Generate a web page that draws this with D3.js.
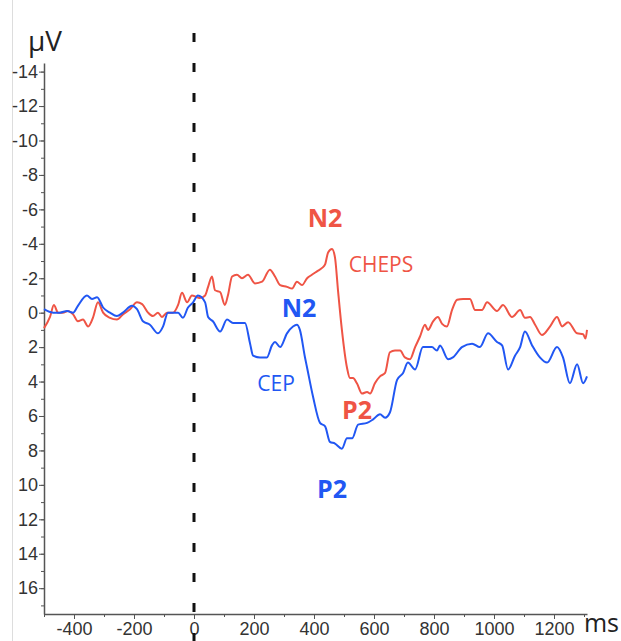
<!DOCTYPE html>
<html>
<head>
<meta charset="utf-8">
<script src="https://cdn.jsdelivr.net/npm/d3@7"></script>
<style>
  body { margin: 0; background: #fff; }
  svg { display: block; }
  .tick line, .domain { stroke: #555; }
</style>
</head>
<body>
<svg width="621" height="641"></svg>
<script>
// CEP (blue) and CHEPS (red) waveforms, [ms, µV]
let cepMs = [-500,-470,-447,-423,-403,-387,-357,-340,-323,-303,-280,-257,-237,-207,-190,-170,-147,-120,-103,-87,-70,-53,-37,-20,-3,13,37,47,63,87,110,130,147,170,187,197,220,243,260,270,287,310,330,343,353,370,377,397,420,437,453,470,493,510,527,547,577,597,620,637,653,677,697,713,737,763,793,810,820,847,863,893,927,953,980,1010,1027,1047,1070,1087,1103,1127,1153,1177,1210,1230,1253,1277,1297,1310];
let cepUv = [-0.2,0.0,0.0,-0.1,0.0,-0.4,-1.0,-0.8,-0.9,-0.3,0.0,0.2,0.0,-0.4,-0.2,0.5,0.7,1.2,0.8,0.0,0.0,0.0,0.3,-0.3,-0.6,-1.0,-0.6,0.25,0.5,1.1,0.4,0.6,0.6,0.6,1.8,2.5,2.6,2.6,1.9,1.7,2.0,1.2,0.8,0.7,1.0,2.6,3.2,4.9,6.4,6.6,7.5,7.6,7.9,7.3,7.3,6.5,6.4,6.2,5.9,6.1,5.8,3.9,3.5,2.9,3.3,2.0,2.0,2.2,1.9,2.7,2.6,2.0,1.8,2.0,1.2,1.7,1.9,3.3,2.5,2.0,1.1,1.9,2.6,2.9,2.0,2.6,4.1,3.0,4.1,3.7];

let chepsMs = [-500,-480,-467,-453,-437,-420,-403,-387,-370,-353,-337,-320,-303,-280,-257,-237,-213,-190,-173,-153,-137,-120,-107,-90,-70,-53,-40,-23,-7,10,20,37,47,60,70,87,103,113,127,143,160,180,203,227,253,270,287,310,327,343,360,377,393,410,427,437,447,460,470,480,493,510,520,530,543,560,577,587,603,620,637,653,670,687,703,720,737,753,770,780,797,813,827,843,860,877,897,920,937,960,977,1010,1030,1060,1087,1103,1120,1137,1160,1187,1210,1227,1247,1277,1297,1305,1310];
let chepsUv = [0.9,0.25,-0.45,0.0,0.0,-0.1,0.1,0.5,0.4,0.8,0.3,-0.6,0.0,0.3,0.4,0.1,-0.2,-0.6,-0.5,0.0,0.2,0.0,0.25,0.0,0.0,-0.45,-1.15,-0.6,-1.0,-0.9,-0.85,-1.0,-1.5,-2.1,-1.3,-1.2,-0.45,-1.0,-2.1,-2.2,-2.0,-2.2,-1.7,-1.8,-2.5,-2.1,-1.6,-1.5,-1.4,-1.8,-1.6,-2.0,-2.2,-2.4,-2.6,-2.8,-3.5,-3.7,-3.2,-1.3,1.0,3.2,3.8,3.8,4.1,4.7,4.6,4.7,4.1,3.7,3.5,2.3,2.2,2.2,2.6,2.7,2.0,1.4,0.7,1.0,0.5,0.25,0.65,0.8,-0.15,-0.75,-0.8,-0.8,-0.15,-0.15,-0.6,-0.1,-0.45,0.25,-0.15,0.3,0.25,0.7,1.3,0.8,0.25,0.8,0.55,1.2,1.25,1.5,1.0];

let yMajor = [-14,-12,-10,-8,-6,-4,-2,0,2,4,6,8,10,12,14,16];
let xMajor = [-400,-200,0,200,400,600,800,1000,1200];

let red = "#ef5445";
let blue = "#2157f3";

let svg = d3.select("svg");

let scX = d3.scaleLinear().domain([-500, 1310]).range([44, 587]);
let scY = d3.scaleLinear().domain([-14.5, 17.5]).range([63, 614]);

// faint frame line at the left edge
svg.append("line")
   .attr("x1", 12.5).attr("x2", 12.5).attr("y1", 0).attr("y2", 641)
   .attr("stroke", "#ddd");

// minor ticks
svg.append("g").attr("transform", "translate(44,0)")
   .call(d3.axisLeft(scY).tickValues(d3.range(-14, 18, 1)).tickSize(3).tickFormat(""))
   .call(g => g.select(".domain").remove());
svg.append("g").attr("transform", "translate(0,614)")
   .call(d3.axisBottom(scX).tickValues(d3.range(-500, 1301, 100)).tickSize(3).tickFormat(""))
   .call(g => g.select(".domain").remove());

// major ticks
let styleTicks = g => g.selectAll(".tick text")
                       .attr("font-family", "'Liberation Sans', Arial, sans-serif")
                       .attr("font-size", 18).attr("fill", "#333");
svg.append("g").attr("transform", "translate(44,0)")
   .call(d3.axisLeft(scY).tickValues(yMajor).tickSize(5).tickSizeOuter(0).tickPadding(1).tickFormat(d => String(d)))
   .call(g => g.select(".domain").attr("stroke-width", 1.5))
   .call(styleTicks);
svg.append("g").attr("transform", "translate(0,614)")
   .call(d3.axisBottom(scX).tickValues(xMajor).tickSize(5).tickSizeOuter(0).tickPadding(3).tickFormat(d => String(d)))
   .call(g => g.select(".domain").attr("stroke-width", 1.5))
   .call(styleTicks);

// stimulus onset
svg.append("line")
   .attr("x1", scX(0)).attr("x2", scX(0)).attr("y1", 33).attr("y2", 641)
   .attr("stroke", "#111").attr("stroke-width", 3)
   .attr("stroke-dasharray", "9 21");

let lineMaker = d3.line()
                  .x(d => scX(d[0]))
                  .y(d => scY(d[1]))
                  .curve(d3.curveMonotoneX);

svg.append("path")
   .attr("fill", "none").attr("stroke", red).attr("stroke-width", 2)
   .attr("d", lineMaker(d3.zip(chepsMs, chepsUv)));
svg.append("path")
   .attr("fill", "none").attr("stroke", blue).attr("stroke-width", 2)
   .attr("d", lineMaker(d3.zip(cepMs, cepUv)));

// unit labels
let unitFont = "'Open Sans', 'DejaVu Sans', sans-serif";
svg.append("text").attr("x", 28).attr("y", 51)
   .attr("font-family", unitFont).attr("font-size", 28).attr("fill", "#222")
   .text("µV");
svg.append("text").attr("x", 619).attr("y", 632)
   .attr("text-anchor", "end")
   .attr("font-family", unitFont).attr("font-size", 25).attr("fill", "#222")
   .text("ms");

// annotations
let notes = [
  {t: "N2", x: 325, y: 227, c: red, b: true},
  {t: "CHEPS", x: 381, y: 272, c: red, b: false},
  {t: "N2", x: 299, y: 317, c: blue, b: true},
  {t: "CEP", x: 276, y: 391, c: blue, b: false},
  {t: "P2", x: 357, y: 419, c: red, b: true},
  {t: "P2", x: 332, y: 498, c: blue, b: true}
];
svg.selectAll(".note").data(notes).enter()
   .append("text").attr("class", "note")
   .attr("x", d => d.x).attr("y", d => d.y)
   .attr("text-anchor", "middle")
   .attr("font-family", unitFont)
   .attr("font-size", d => d.b ? 25 : 21)
   .attr("font-weight", d => d.b ? "bold" : "normal")
   .attr("fill", d => d.c)
   .text(d => d.t);
</script>
</body>
</html>
